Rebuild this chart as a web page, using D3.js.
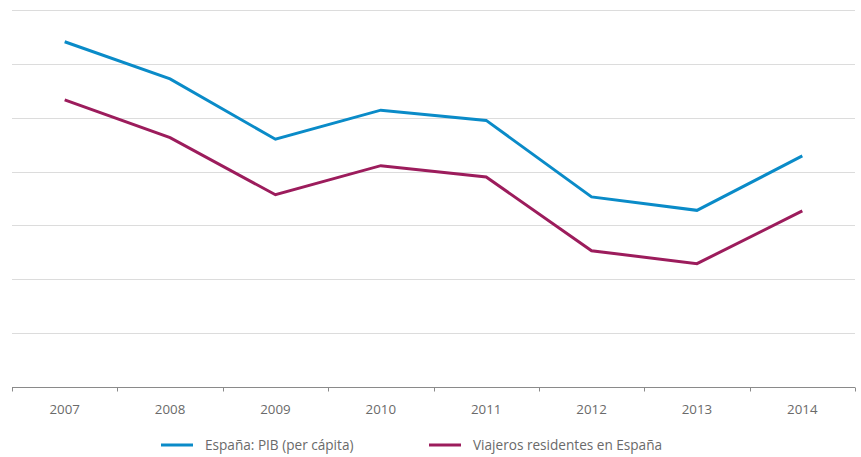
<!DOCTYPE html>
<html>
<head>
<meta charset="utf-8">
<script src="https://cdn.jsdelivr.net/npm/d3@7"></script>
<style>
  html, body { margin: 0; padding: 0; background: #fff; }
  svg { display: block; }
  text { font-family: "Open Sans", "Noto Sans", sans-serif; fill: #6a6a6a; }
</style>
</head>
<body>
<svg id="chart" width="861" height="457"></svg>
<script>
// Years on the horizontal axis
const years = ["2007", "2008", "2009", "2010", "2011", "2012", "2013", "2014"];
// Index values (no visible y labels)
const pibPerCapita = [64.1, 57.2, 46.0, 51.4, 49.5, 35.3, 32.8, 42.9];
const viajerosResidentes = [53.3, 46.3, 35.7, 41.1, 39.0, 25.3, 22.9, 32.7];
// Horizontal gridline positions
const yTicks = [10, 20, 30, 40, 50, 60, 70];

const seriesNames = ["España: PIB (per cápita)", "Viajeros residentes en España"];
const seriesColors = ["#0a8bc8", "#9c1c5c"];

(function () {
  const svg = d3.select("#chart");
  const plotLeft = 12, plotRight = 855, plotTop = 10, plotBottom = 387;

  const x = d3.scaleBand().domain(years).range([plotLeft, plotRight]).padding(0);
  const y = d3.scaleLinear().domain([0, 70]).range([plotBottom, plotTop]);

  // gridlines
  svg.append("g")
    .selectAll("line")
    .data(yTicks)
    .join("line")
    .attr("x1", plotLeft).attr("x2", plotRight)
    .attr("y1", d => Math.round(y(d)) + 0.5).attr("y2", d => Math.round(y(d)) + 0.5)
    .attr("stroke", "#dcdcdc").attr("stroke-width", 1);

  // x axis with tick marks on band edges
  const axisG = svg.append("g").attr("transform", `translate(0,${plotBottom + 0.5})`);
  axisG.append("line")
    .attr("x1", plotLeft).attr("x2", plotRight)
    .attr("stroke", "#8a8a8a").attr("stroke-width", 1);
  const edges = years.map(d => x(d)).concat([plotRight]);
  axisG.selectAll("line.tick")
    .data(edges)
    .join("line")
    .attr("class", "tick")
    .attr("x1", d => Math.round(d) + 0.5).attr("x2", d => Math.round(d) + 0.5)
    .attr("y1", 0).attr("y2", 4)
    .attr("stroke", "#8a8a8a").attr("stroke-width", 1);
  axisG.selectAll("text")
    .data(years)
    .join("text")
    .attr("x", d => x(d) + x.bandwidth() / 2)
    .attr("y", 26)
    .attr("text-anchor", "middle")
    .style("font-size", "13.3px")
    .text(d => d);

  // lines
  const line = d3.line()
    .x((d, i) => x(years[i]) + x.bandwidth() / 2)
    .y(d => y(d));

  [pibPerCapita, viajerosResidentes].forEach((vals, i) => {
    svg.append("path")
      .datum(vals)
      .attr("fill", "none")
      .attr("stroke", seriesColors[i])
      .attr("stroke-width", 3)
      .attr("stroke-linejoin", "miter")
      .attr("d", line);
  });

  // legend
  const legendX = [161, 429];
  const legend = svg.append("g");
  seriesNames.forEach((name, i) => {
    const g = legend.append("g").attr("transform", `translate(${legendX[i]},445)`);
    g.append("line")
      .attr("x1", 0).attr("x2", 32)
      .attr("stroke", seriesColors[i]).attr("stroke-width", 3);
    g.append("text")
      .attr("x", 44).attr("y", 4.8)
      .style("font-size", "13.6px")
      .text(name);
  });
})();
</script>
</body>
</html>
